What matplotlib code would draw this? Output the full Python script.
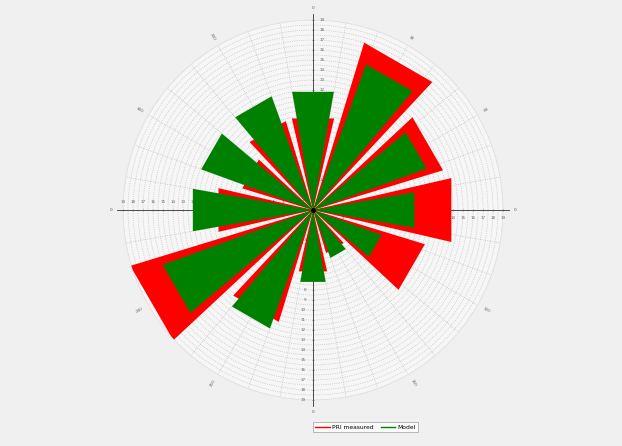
import numpy as np
import matplotlib
matplotlib.use("Agg")
import matplotlib.pyplot as plt
from matplotlib.lines import Line2D

# rose bins (compass direction of bin centre, degrees)
directions = [0, 30, 60, 90, 120, 150, 180, 210, 240, 270, 300, 330]
# two series of frequency values per bin
series_red = [9.4, 17.5, 13.6, 14.2, 11.7, 4.5, 6.3, 11.7, 19.1, 9.7, 7.4, 9.3]
series_green = [12.0, 15.5, 12.1, 10.3, 7.3, 5.1, 7.3, 12.6, 16.0, 12.2, 11.9, 12.1]
legend_labels = ["PRI measured", "Model"]
ring_labels = ["30", "60", "120", "150", "210", "240", "300", "330"]
rmax = 19.0

fig = plt.figure(figsize=(6.22, 4.46), dpi=100)
fig.patch.set_facecolor("#f0f0f0")
ax = fig.add_axes([0.1977, 0.1031, 0.611, 0.852], projection="polar")
ax.set_facecolor("#f6f6f6")
ax.set_theta_zero_location("N")
ax.set_theta_direction(-1)
ax.set_ylim(0, rmax)

# dense dotted grid
ax.set_rgrids(np.arange(0.5, rmax + 0.01, 0.5), labels=[])
ax.set_thetagrids(np.arange(0, 360, 10), labels=[])
ax.grid(True, color="#b9b9b9", linestyle=":", linewidth=0.5)
ax.spines["polar"].set_color("#e2e2e2")
ax.spines["polar"].set_linewidth(0.6)
ax.tick_params(length=0)


def wedge(centre, width, value, color, z):
    # triangle from the origin with a straight outer edge
    t = np.deg2rad([centre, centre - width / 2, centre + width / 2, centre])
    r = [0, value, value, 0]
    ax.fill(t, r, color=color, lw=0, zorder=z)


for d, v in zip(directions, series_red):
    wedge(d, 26, v, "#ff0000", 4)
for d, v in zip(directions, series_green):
    wedge(d, 20, v, "#008000", 5)
ax.plot([0], [0], "o", color="black", ms=2.5, zorder=6)

# cross axes through the centre with ticks and small labels
for ang in [0, 90, 180, 270]:
    th = np.deg2rad(ang)
    ax.plot([th, th], [0, 19.6], color="#333333", lw=0.6, zorder=3, clip_on=False)
    ax.text(th, 20.2, "0", fontsize=3, color="#555555", ha="center", va="center",
            clip_on=False)
    mk = "_" if ang in (0, 180) else "|"
    rs = np.arange(1, 19.5, 1)
    ax.plot([th] * len(rs), rs, ls="none", marker=mk, ms=2, mew=0.4,
            color="#555555", zorder=3, clip_on=False)
    for rv in rs:
        if ang == 0:
            off = dict(xytext=(5, 0), ha="left", va="center")
        elif ang == 180:
            off = dict(xytext=(-5, 0), ha="right", va="center")
        elif ang == 90:
            off = dict(xytext=(0, -4), ha="center", va="top")
        else:
            off = dict(xytext=(0, 4), ha="center", va="bottom")
        ax.annotate("%g" % rv, (th, rv), textcoords="offset points", fontsize=3,
                    color="#666666", zorder=3, **off)

# direction marks around the rim
for lab in ring_labels:
    a = float(lab)
    rot = 90 - a if a <= 180 else 270 - a
    ax.text(np.deg2rad(a), 20.0, lab, fontsize=3, color="#666666", rotation=rot,
            ha="center", va="center", clip_on=False)

handles = [Line2D([], [], color="#ff0000", lw=1), Line2D([], [], color="#008000", lw=1)]
leg = fig.legend(handles, legend_labels, loc="center", bbox_to_anchor=(365.5 / 622, 1 - 427 / 446),
                 ncol=2, fontsize=4.3, handlelength=2.4, handletextpad=0.4, columnspacing=1.2,
                 frameon=True, fancybox=False, borderpad=0.4)
leg.get_frame().set_edgecolor("#999999")
leg.get_frame().set_linewidth(0.6)
leg.get_frame().set_facecolor("#ffffff")

fig.savefig("out.png", dpi=100, facecolor=fig.get_facecolor())
